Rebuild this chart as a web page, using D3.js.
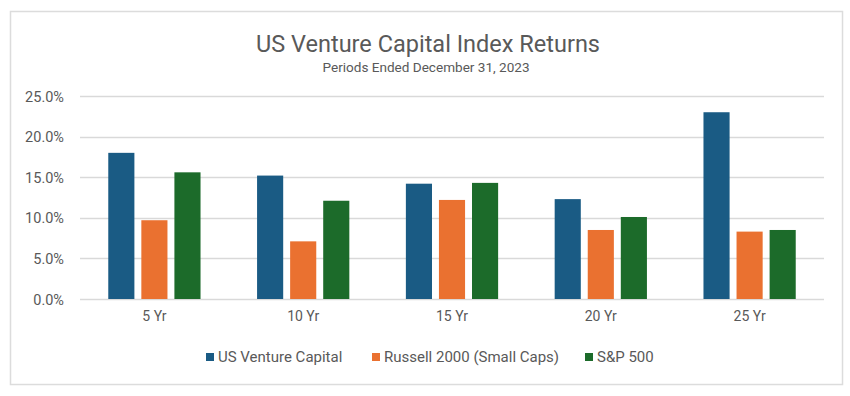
<!DOCTYPE html>
<html>
<head>
<meta charset="utf-8">
<script src="https://cdn.jsdelivr.net/npm/d3@7"></script>
<style>
  html, body { margin: 0; padding: 0; background: #fff; }
  svg { display: block; }
</style>
</head>
<body>
<svg id="chart" width="850" height="396"></svg>
<script>
const categories = ["5 Yr", "10 Yr", "15 Yr", "20 Yr", "25 Yr"];
const seriesNames = ["US Venture Capital", "Russell 2000 (Small Caps)", "S&P 500"];
const ventureCapital = [18.0, 15.2, 14.2, 12.3, 23.0];
const russell2000 = [9.7, 7.1, 12.2, 8.5, 8.3];
const sp500 = [15.6, 12.1, 14.3, 10.1, 8.5];
const yTicks = [0, 5, 10, 15, 20, 25];
const colors = ["#1a5b84", "#ea7130", "#1c6b2a"];
const titleText = "US Venture Capital Index Returns";
const subtitleText = "Periods Ended December 31, 2023";

const seriesValues = [ventureCapital, russell2000, sp500];
const svg = d3.select("#chart");
const textColor = "#595959";

// frame
svg.append("rect").attr("x", 10.5).attr("y", 11.5).attr("width", 832).attr("height", 373)
  .attr("fill", "#fff").attr("stroke", "#dcdcdc").attr("stroke-width", 1.5);

const plot = { left: 80, right: 824, top: 96, bottom: 299 };

const x0 = d3.scaleBand().domain(categories).range([plot.left, plot.right])
  .paddingInner(0.38).paddingOuter(0.19);
const x1 = d3.scaleBand().domain(d3.range(seriesNames.length)).range([0, x0.bandwidth()])
  .paddingInner(0.21).paddingOuter(0);
const y = d3.scaleLinear().domain([0, 25]).range([plot.bottom, plot.top]);

// gridlines
svg.append("g").selectAll("line").data(yTicks).join("line")
  .attr("x1", plot.left).attr("x2", plot.right)
  .attr("y1", d => Math.round(y(d)) + 0.5).attr("y2", d => Math.round(y(d)) + 0.5)
  .attr("stroke", "#d9d9d9").attr("stroke-width", 1.3);

// y axis labels
const yAxis = d3.axisLeft(y).tickValues(yTicks).tickFormat(d => d3.format(".1f")(d) + "%").tickSize(0).tickPadding(0);
const ya = svg.append("g").attr("transform", `translate(64,0)`).call(yAxis);
ya.select(".domain").remove();
ya.selectAll("text").attr("fill", textColor).style("font-family", "Roboto, 'Noto Sans', sans-serif")
  .style("font-size", "14.5px").attr("dy", "0.35em");

// bars
const groups = svg.append("g").selectAll("g").data(categories).join("g")
  .attr("transform", d => `translate(${x0(d)},0)`);
groups.selectAll("rect").data((c, ci) => seriesValues.map((s, si) => ({ si, v: s[ci] })))
  .join("rect")
  .attr("x", d => x1(d.si)).attr("width", x1.bandwidth())
  .attr("y", d => y(d.v)).attr("height", d => y(0) - y(d.v))
  .attr("fill", d => colors[d.si]);

// x axis labels
const xAxis = d3.axisBottom(x0).tickSize(0).tickPadding(0);
const xa = svg.append("g").attr("transform", `translate(0,${plot.bottom})`).call(xAxis);
xa.select(".domain").remove();
xa.selectAll("text").attr("fill", textColor).attr("y", 22).attr("dy", "0")
  .style("font-family", "Roboto, 'Noto Sans', sans-serif").style("font-size", "14px");

// title
svg.append("text").attr("x", 428).attr("y", 52).attr("text-anchor", "middle")
  .attr("fill", textColor).style("font-family", "'Liberation Sans Narrow', Roboto, sans-serif")
  .style("font-size", "24px").attr("textLength", 344).attr("lengthAdjust", "spacingAndGlyphs")
  .text(titleText);
svg.append("text").attr("x", 426).attr("y", 72).attr("text-anchor", "middle")
  .attr("fill", textColor).style("font-family", "'Liberation Sans Narrow', Roboto, sans-serif")
  .style("font-size", "13.5px").attr("textLength", 207).attr("lengthAdjust", "spacingAndGlyphs")
  .text(subtitleText);

// legend
const legendX = [206, 372, 585];
const legend = svg.append("g").selectAll("g").data(seriesNames).join("g")
  .attr("transform", (d, i) => `translate(${legendX[i]},357)`);
legend.append("rect").attr("x", 0).attr("y", -4).attr("width", 8).attr("height", 8)
  .attr("fill", (d, i) => colors[i]);
legend.append("text").attr("x", 12).attr("y", 0).attr("dy", "0.35em")
  .attr("fill", textColor).style("font-family", "Roboto, 'Noto Sans', sans-serif")
  .style("font-size", "15px").text(d => d);
</script>
</body>
</html>
